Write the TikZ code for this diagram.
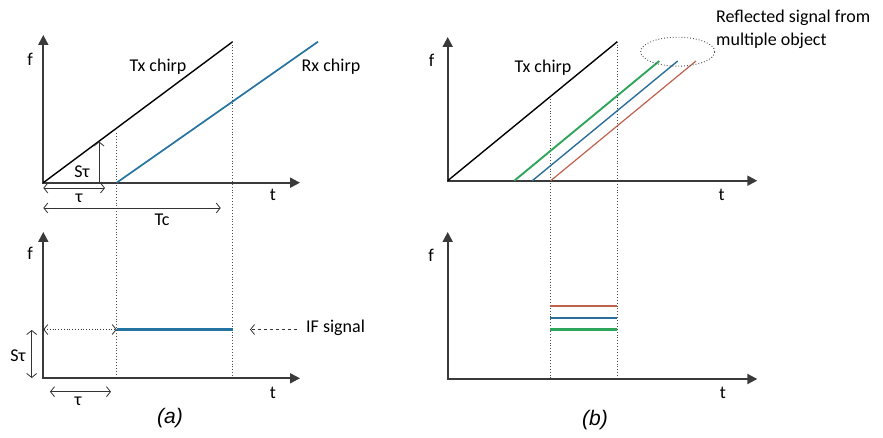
\documentclass[tikz,border=0pt]{standalone}
\usepackage{fontspec}
\setmainfont{Carlito}
\newfontfamily\capfont{Liberation Sans}
\usetikzlibrary{arrows.meta,shapes.geometric}
\definecolor{axisgray}{HTML}{3A3A3A}
\definecolor{rxblue}{HTML}{2573A0}
\definecolor{sgreen}{HTML}{2EA55A}
\definecolor{sblue}{HTML}{2A6E9C}
\definecolor{sred}{HTML}{C0604F}
\begin{document}
\begin{tikzpicture}[x=1pt,y=-1pt,
 axis/.style={line width=2pt, draw=axisgray, -{Triangle[length=10pt,width=10pt]}},
 chirp/.style={line width=1.4pt},
 guide/.style={dotted, line width=0.9pt, draw=black!70},
 barb/.tip={Straight Barb[length=4pt,width=10pt]},
 dimarrow/.style={line width=0.8pt, draw=black!80, barb-barb},
 pointer/.style={line width=0.8pt, draw=black!80, -barb},
 lbl/.style={font=\fontsize{18}{20}\selectfont, inner sep=0pt},
 figcap/.style={font=\capfont\itshape\fontsize{21}{24}\selectfont, inner sep=0pt}]

\useasboundingbox (0,0) rectangle (883,438);

% ---------- panel (a), top ----------
\coordinate (a0) at (43.3,182.7);
\coordinate (a0b) at (43.3,183.7);
\coordinate (aTop) at (43.3,35);
\coordinate (aRight) at (300,182.7);
\draw[axis] (a0b) -- (aTop);
\draw[axis] (a0) -- (aRight);
\coordinate (tx1) at (232.7,41.7);
\draw[chirp] (a0) -- (tx1);
\coordinate (rx0) at (116.7,182.7);
\coordinate (rx1) at (318,41.7);
\draw[chirp, line width=1.7pt, draw=rxblue] (rx0) -- (rx1);
\coordinate (g1top) at (116.7,133);
\coordinate (g1bot) at (116.7,378.3);
\coordinate (g2bot) at (232.7,378.3);
\draw[guide] (g1top) -- (g1bot);
\draw[guide] (tx1) -- (g2bot);
\coordinate (sb) at (99,182.7);
\coordinate (st) at (99,141.5);
\draw[pointer] (sb) -- (st);
\node[lbl] (sL) at (82,172) {Sτ};
\coordinate (tau1) at (43.3,188);
\coordinate (tau2) at (105,188);
\draw[dimarrow] (tau1) -- (tau2);
\node[lbl] (tauL) at (79,198) {τ};
\coordinate (tc1) at (43.3,208);
\coordinate (tc2) at (220.7,208);
\draw[dimarrow] (tc1) -- (tc2);
\node[lbl] (tcL) at (162,220) {Tc};
\node[lbl] (fa) at (30,59) {f};
\node[lbl] (ta) at (273,195) {t};
\node[lbl] (txL) at (158,67) {Tx chirp};
\node[lbl] (rxL) at (331,67) {Rx chirp};

% ---------- panel (a), bottom ----------
\coordinate (c0) at (43.3,378.3);
\coordinate (c0b) at (43.3,379.3);
\coordinate (cTop) at (43.3,232);
\coordinate (cRight) at (300,378.3);
\draw[axis] (c0b) -- (cTop);
\draw[axis] (c0) -- (cRight);
\coordinate (if0) at (43.3,329.5);
\coordinate (if1) at (116.7,329.5);
\coordinate (if2) at (232.7,329.5);
\draw[dimarrow, dotted] (if0) -- (if1);
\draw[line width=2.2pt, draw=rxblue] (if1) -- (if2);
\coordinate (ifp1) at (297,329.5);
\coordinate (ifp2) at (250,329.5);
\draw[pointer, dashed] (ifp1) -- (ifp2);
\node[lbl, anchor=west] (ifL) at (306,328) {IF signal};
\coordinate (s1) at (31.7,330);
\coordinate (s2) at (31.7,378);
\draw[dimarrow] (s1) -- (s2);
\node[lbl] (sL2) at (18,356) {Sτ};
\coordinate (tb1) at (50,391.7);
\coordinate (tb2) at (111,391.7);
\draw[dimarrow] (tb1) -- (tb2);
\node[lbl] (tauL2) at (78,401) {τ};
\node[lbl] (fc) at (30,253) {f};
\node[lbl] (tc) at (273,393) {t};
\node[figcap] (capA) at (170,418) {(a)};

% ---------- panel (b), top ----------
\coordinate (b0) at (447.7,180.7);
\coordinate (b0b) at (447.7,181.7);
\coordinate (bTop) at (447.7,37);
\coordinate (bRight) at (757.3,180.7);
\draw[axis] (b0b) -- (bTop);
\draw[axis] (b0) -- (bRight);
\coordinate (btx1) at (617.3,41.7);
\draw[chirp] (b0) -- (btx1);
\coordinate (h1top) at (550,99);
\coordinate (h1bot) at (550,379);
\coordinate (h2bot) at (617.3,379);
\draw[guide] (h1top) -- (h1bot);
\draw[guide] (btx1) -- (h2bot);
\coordinate (gr0) at (514.3,180.7);
\coordinate (gr1) at (659.3,61);
\coordinate (bl0) at (532.3,180.7);
\coordinate (bl1) at (677.7,61);
\coordinate (rd0) at (550.7,180.7);
\coordinate (rd1) at (696,61);
\draw[line width=1.9pt, draw=sgreen] (gr0) -- (gr1);
\draw[line width=1.4pt, draw=sblue] (bl0) -- (bl1);
\draw[line width=1.2pt, draw=sred] (rd0) -- (rd1);
\node[draw=black!70, dotted, line width=0.9pt, ellipse, minimum width=74pt, minimum height=29pt, inner sep=0pt] (ell) at (677.7,51.7) {};
\node[lbl, anchor=west, align=left, font=\fontsize{18}{23.5}\selectfont] (refL) at (716,29.5) {Reflected signal from\\multiple object};
\node[lbl] (txL2) at (543,68) {Tx chirp};
\node[lbl] (fb) at (431.7,60) {f};
\node[lbl] (tb) at (721.7,195) {t};

% ---------- panel (b), bottom ----------
\coordinate (d0) at (447.7,379);
\coordinate (d0b) at (447.7,380);
\coordinate (dTop) at (447.7,232);
\coordinate (dRight) at (757.3,379);
\draw[axis] (d0b) -- (dTop);
\draw[axis] (d0) -- (dRight);
\coordinate (r1) at (550,305.5);
\coordinate (r2) at (617.3,305.5);
\coordinate (u1) at (550,317.5);
\coordinate (u2) at (617.3,317.5);
\coordinate (v1) at (550,329.5);
\coordinate (v2) at (617.3,329.5);
\draw[line width=2pt, draw=sred] (r1) -- (r2);
\draw[line width=2pt, draw=sblue] (u1) -- (u2);
\draw[line width=2.6pt, draw=sgreen] (v1) -- (v2);
\node[lbl] (fd) at (431,255) {f};
\node[lbl] (td) at (723,393) {t};
\node[figcap] (capB) at (595,420) {(b)};
\end{tikzpicture}
\end{document}
